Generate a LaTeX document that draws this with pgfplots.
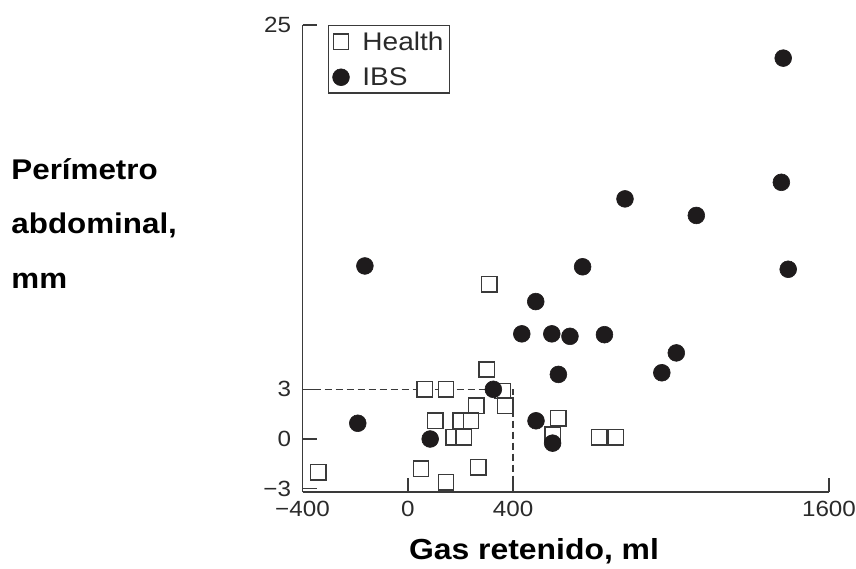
\documentclass[border=0pt]{standalone}
\usepackage{fontspec}
\setmainfont{Liberation Sans}[FakeStretch=1.1]
\usepackage{pgfplots}
\pgfplotsset{compat=1.18}
\definecolor{axcol}{HTML}{3A3A3A}
\definecolor{dotcol}{HTML}{1E1B1C}
\definecolor{txtcol}{HTML}{2A2A2A}
\begin{document}
\begin{tikzpicture}
\path[use as bounding box] (0,0) rectangle (856bp,569bp);
\begin{axis}[
  at={(302.5bp,77bp)}, anchor=south west,
  scale only axis, width=526.5bp, height=467bp,
  xmin=-400, xmax=1600, ymin=-3.2, ymax=25,
  clip=false,
  axis x line*=bottom, axis y line*=left,
  axis line style={draw=axcol, line width=1.4bp},
  tick align=inside, major tick length=14bp,
  tick style={draw=axcol, line width=1.4bp},
  xtick={-400,0,400,1600}, xticklabels={−400,0,400,1600},
  ytick={-3,0,3,25}, yticklabels={−3,0,3,25},
  ticklabel style={font=\fontsize{22bp}{24bp}\selectfont, text=txtcol},
  xticklabel style={yshift=-6bp},
  yticklabel style={xshift=-8bp},
  xlabel={Gas retenido, ml},
  ylabel={\begin{tabular}[t]{@{}l@{}}Perímetro\\abdominal,\\mm\end{tabular}},
  every axis x label/.style={at={(axis description cs:0.4397,-0.1435)}, anchor=base, font=\bfseries\fontsize{29bp}{34bp}\selectfont, text=black},
  every axis y label/.style={at={(axis description cs:-0.5595,0.6702)}, anchor=base west, font=\bfseries\fontsize{28.5bp}{54.5bp}\selectfont, text=black},
  legend style={at={(axis description cs:0.0484,1)}, anchor=north west, draw=axcol, line width=1.3bp,
    font=\fontsize{25.5bp}{28bp}\selectfont, text=txtcol, inner xsep=4bp, inner ysep=4bp, row sep=12bp,
    /tikz/every odd column/.append style={column sep=11bp}},
  legend cell align=left,
]
\addplot[draw=axcol, line width=1.4bp, dash pattern=on 7.5bp off 3.5bp, forget plot]
  coordinates {(-400,3) (400,3) (400,-3.2)};
\addplot[only marks, mark=square*, mark size=7.7bp,
  mark options={draw=axcol, fill=white, line width=1.5bp}]
  coordinates {
  (-340,-2) (65,3) (145,3) (300,4.2) (360,2.9) (370,2) (260,2)
  (105,1.1) (200,1.1) (240,1.1) (175,0.1) (213,0.1) (50,-1.8)
  (145,-2.6) (268,-1.7) (572,1.25) (550,0.25) (727,0.1) (790,0.1) (310,9.35)
  };
\addlegendentry{Health}
\addplot[only marks, mark=*, mark size=8.4bp,
  mark options={draw=dotcol, fill=dotcol, line width=0.6bp}]
  coordinates {
  (-190,0.95) (-163,10.45) (85,0) (325,3) (433,6.35) (486,8.3) (487,1.1)
  (547,6.35) (550,-0.25) (572,3.9) (616,6.2) (664,10.4) (747,6.3) (825,14.5)
  (965,4.0) (1020,5.2) (1096,13.5) (1419,15.5) (1426,23) (1445,10.25)
  };
\addlegendentry{IBS}
\end{axis}
\end{tikzpicture}
\end{document}
